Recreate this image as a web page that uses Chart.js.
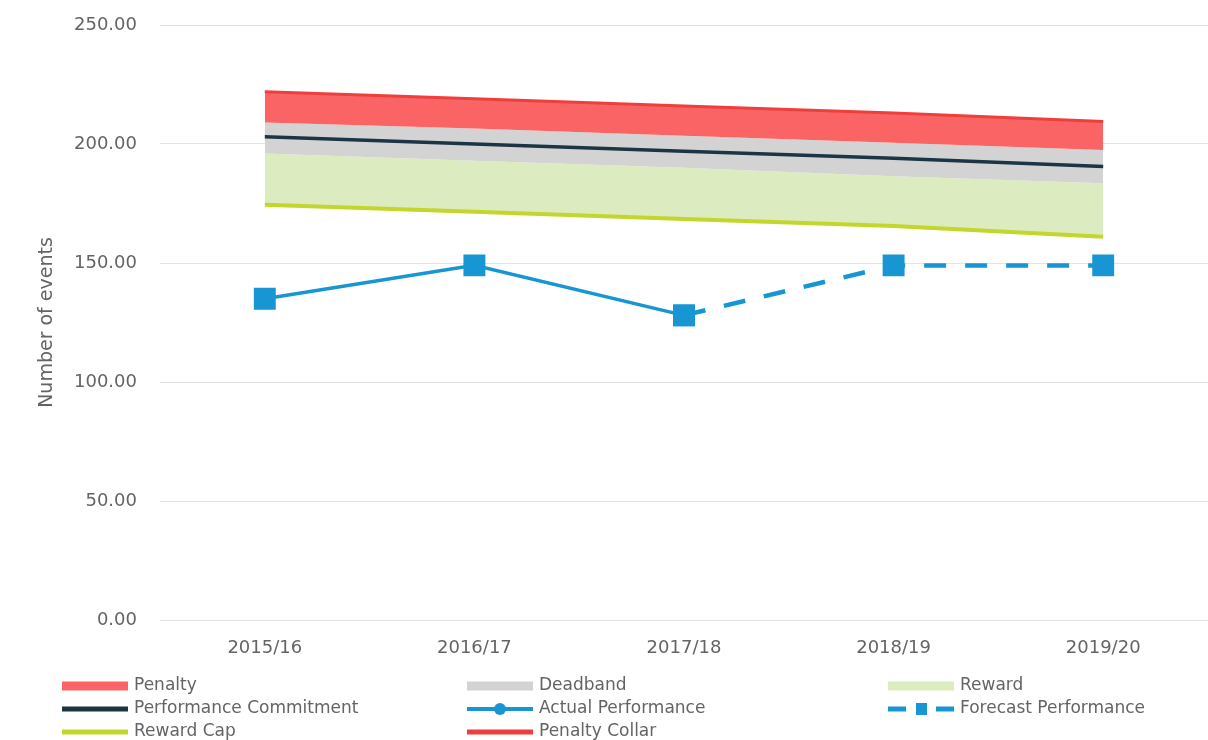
<!DOCTYPE html>
<html>
<head>
<meta charset="utf-8">
<script src="https://cdn.jsdelivr.net/npm/chart.js@4/dist/chart.umd.min.js"></script>
<style>
  html, body { margin: 0; padding: 0; background: #fff; overflow: hidden; }
  canvas { display: block; }
</style>
</head>
<body>
<canvas id="eventsChart" width="1208" height="740"></canvas>
<script>
var years = ["2015/16", "2016/17", "2017/18", "2018/19", "2019/20"];
var penaltyCollar = [222, 219, 216, 213, 209.5];
var penaltyStart = [209, 206.5, 203.5, 200.5, 197.5];
var commitment = [203, 200, 197, 194, 190.5];
var rewardStart = [196, 193, 190, 186.5, 183.5];
var rewardCap = [174.5, 171.5, 168.5, 165.5, 161];
var actual = [135, 149, 128, null, null];
var forecast = [null, null, 128, 149, 149];
var yTicks = [0, 50, 100, 150, 200, 250];

var RED_LINE = '#ee3e3e', RED_FILL = '#fb6464', GREY = '#d3d3d3', GREEN = '#dcebc0',
    CAP = '#c3d62c', NAVY = '#1c3544', BLUE = '#1896d3', TEXT = '#646464';
var FONT = '"DejaVu Sans", sans-serif';

// legend drawn underneath the plot, three columns like the spreadsheet legend
var legendItems = [
    { label: 'Penalty', kind: 'band', color: RED_FILL },
    { label: 'Deadband', kind: 'band', color: GREY },
    { label: 'Reward', kind: 'band', color: GREEN },
    { label: 'Performance Commitment', kind: 'line', color: NAVY },
    { label: 'Actual Performance', kind: 'marker', color: BLUE },
    { label: 'Forecast Performance', kind: 'dashed', color: BLUE },
    { label: 'Reward Cap', kind: 'line', color: CAP },
    { label: 'Penalty Collar', kind: 'line', color: RED_LINE }
];

var legendPlugin = {
    id: 'gridLegend',
    afterDraw: function(chart) {
        var ctx = chart.ctx;
        var cols = [62, 467, 888], rows = [686, 709, 732];
        ctx.save();
        ctx.font = '17px ' + FONT;
        ctx.textBaseline = 'middle';
        legendItems.forEach(function(item, i) {
            var x = cols[i % 3], y = rows[Math.floor(i / 3)];
            ctx.fillStyle = item.color;
            if (item.kind === 'band') {
                ctx.fillRect(x, y - 4.5, 66, 9);
            } else if (item.kind === 'line') {
                ctx.fillRect(x, y - 2.5, 66, 5);
            } else if (item.kind === 'marker') {
                ctx.fillRect(x, y - 2, 66, 4);
                ctx.beginPath();
                ctx.arc(x + 33, y, 6, 0, Math.PI * 2);
                ctx.fill();
            } else {
                ctx.fillRect(x, y - 2.5, 18, 5);
                ctx.fillRect(x + 48, y - 2.5, 18, 5);
                ctx.fillRect(x + 28, y - 6, 11, 12);
            }
            ctx.fillStyle = TEXT;
            ctx.fillText(item.label, x + 72, y);
        });
        ctx.restore();
    }
};

var band = function(label, data, fill, bg) {
    return {
        label: label, data: data, fill: fill, backgroundColor: bg,
        borderColor: 'rgba(0,0,0,0)', borderWidth: 0, pointRadius: 0, tension: 0
    };
};

var ctx = document.getElementById('eventsChart').getContext('2d');
var chart = new Chart(ctx, {
    type: 'line',
    data: {
        labels: years,
        datasets: [
            {
                label: 'Penalty Collar', data: penaltyCollar,
                borderColor: RED_LINE, borderWidth: 3, pointRadius: 0,
                fill: '+1', backgroundColor: RED_FILL, tension: 0
            },
            band('Penalty', penaltyStart, 3, GREY),
            {
                label: 'Performance Commitment', data: commitment,
                borderColor: NAVY, borderWidth: 3.5, pointRadius: 0, fill: false, tension: 0
            },
            band('Reward', rewardStart, '+1', GREEN),
            {
                label: 'Reward Cap', data: rewardCap,
                borderColor: CAP, borderWidth: 4, pointRadius: 0, fill: false, tension: 0
            },
            {
                label: 'Actual Performance', data: actual,
                borderColor: BLUE, backgroundColor: BLUE, borderWidth: 3.5,
                pointStyle: 'rect', pointRadius: 15.5, pointBorderWidth: 0,
                fill: false, tension: 0
            },
            {
                label: 'Forecast Performance', data: forecast,
                borderColor: BLUE, backgroundColor: BLUE, borderWidth: 4.5,
                borderDash: [22, 19],
                pointStyle: 'rect', pointRadius: 15.5, pointBorderWidth: 0,
                fill: false, tension: 0
            }
        ]
    },
    options: {
        responsive: false,
        animation: false,
        layout: { autoPadding: false, padding: { left: 20, top: 25, right: 0, bottom: 80 } },
        plugins: {
            legend: { display: false },
            tooltip: { enabled: false },
            filler: { drawTime: 'beforeDatasetsDraw' }
        },
        scales: {
            x: {
                offset: true,
                grid: { display: false, drawTicks: false, offset: true },
                border: { display: false },
                ticks: { color: TEXT, font: { family: FONT, size: 18 }, padding: 18 },
                afterFit: function(scale) {
                    scale.height = 40;
                    scale.paddingLeft = 0;
                    scale.paddingRight = 0;
                }
            },
            y: {
                min: 0,
                max: 250,
                afterBuildTicks: function(scale) {
                    scale.ticks = yTicks.map(function(v) { return { value: v }; });
                },
                grid: { color: '#e3e3e3', lineWidth: 1, drawTicks: false },
                border: { display: false },
                ticks: {
                    color: TEXT, font: { family: FONT, size: 18 }, padding: 23,
                    callback: function(v) { return v.toFixed(2); }
                },
                title: {
                    display: true, text: 'Number of events', color: TEXT,
                    font: { family: FONT, size: 19 }, padding: { top: 16 }
                },
                afterFit: function(scale) {
                    scale.width = 140;
                    scale.paddingTop = 0;
                    scale.paddingBottom = 0;
                }
            }
        }
    },
    plugins: [legendPlugin]
});
</script>
</body>
</html>
